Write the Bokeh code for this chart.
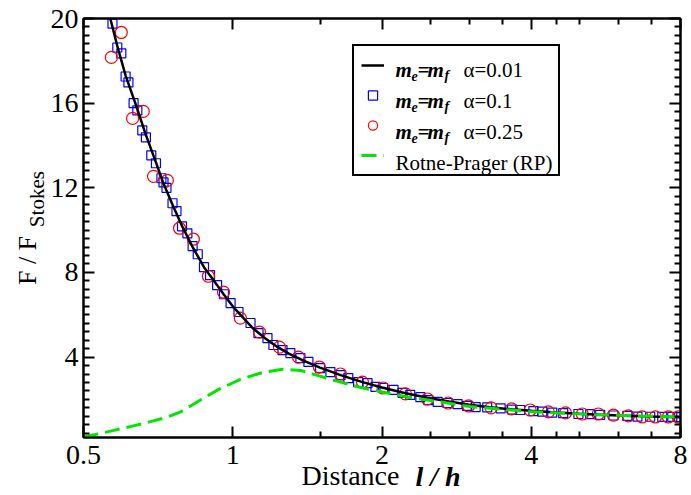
from bokeh.plotting import figure
from bokeh.models import (LogAxis, LinearAxis, FixedTicker, Label, Legend,
                          LegendItem, Range1d)
from bokeh.embed import file_html
from bokeh.resources import INLINE

# ---------------- data ----------------
x_tick_values = [0.5, 1, 2, 4, 8]
x_tick_labels = ["0.5", "1", "2", "4", "8"]
x_minor_values = [1.5, 2.5, 3, 3.5, 4.5, 5, 6, 7]
y_tick_values = [4, 8, 12, 16, 20]

# alpha = 0.01 (solid black curve)
line_x = [0.562, 0.585, 0.608, 0.636, 0.668, 0.70, 0.725, 0.756, 0.79, 0.83,
          0.875, 0.90, 0.93, 0.96, 1.0, 1.05, 1.10, 1.16, 1.23, 1.30, 1.40,
          1.50, 1.65, 1.82, 2.0, 2.22, 2.47, 2.73, 3.0, 3.3, 3.65, 4.0, 4.5,
          5.0, 5.5, 6.2, 7.0, 8.0]
line_y = [20.3, 18.7, 17.3, 16.0, 14.5, 13.2, 12.2, 11.2, 10.2, 9.2,
          8.25, 7.85, 7.4, 6.95, 6.4, 5.85, 5.35, 4.9, 4.48, 4.15, 3.8,
          3.5, 3.15, 2.83, 2.56, 2.30, 2.08, 1.9, 1.75, 1.63, 1.53, 1.46, 1.38,
          1.32, 1.28, 1.23, 1.19, 1.16]

# alpha = 0.1 (blue squares)
sq_x = [0.572, 0.585, 0.596, 0.608, 0.616, 0.631, 0.642, 0.657, 0.668, 0.685,
        0.70, 0.718, 0.725, 0.735, 0.756, 0.77, 0.79, 0.81, 0.83, 0.85,
        0.875, 0.90, 0.93, 0.96, 0.99, 1.027, 1.086, 1.127, 1.175, 1.208,
        1.26, 1.307, 1.369, 1.421, 1.50, 1.574, 1.65, 1.71, 1.79, 1.87,
        1.94, 2.01, 2.11, 2.20, 2.28, 2.39, 2.48, 2.59, 2.71, 2.84,
        2.97, 3.09, 3.26, 3.47, 3.66, 3.80, 4.04, 4.21, 4.41, 4.64,
        4.98, 5.26, 5.51, 5.86, 6.25, 6.55, 6.95, 7.35, 7.70, 7.95]
sq_y = [19.76, 18.63, 18.35, 17.26, 16.98, 16.0, 15.66, 14.71, 14.38, 13.53,
        13.16, 12.45, 12.26, 12.0, 11.27, 10.9, 10.18, 9.85, 9.24, 8.86,
        8.25, 7.87, 7.4, 6.97, 6.55, 6.13, 5.61, 5.13, 4.90, 4.57,
        4.33, 4.19, 3.95, 3.77, 3.48, 3.29, 3.15, 3.01, 2.82, 2.77,
        2.59, 2.54, 2.45, 2.31, 2.21, 2.11, 1.97, 1.88, 1.83, 1.78,
        1.69, 1.64, 1.62, 1.58, 1.52, 1.50, 1.45, 1.42, 1.38, 1.35,
        1.31, 1.30, 1.27, 1.24, 1.22, 1.19, 1.18, 1.17, 1.17, 1.16]

# alpha = 0.25 (red circles)
ci_x = [0.569, 0.596, 0.628, 0.66, 0.692, 0.738, 0.781, 0.833, 0.893, 0.958,
        1.036, 1.132, 1.242, 1.357, 1.495, 1.649, 1.826, 2.01, 2.23, 2.47,
        2.72, 2.99, 3.32, 3.65, 3.98, 4.33, 4.69, 5.07, 5.46, 5.86,
        6.28, 6.70, 7.12, 7.56, 7.92]
ci_y = [18.16, 19.34, 15.28, 15.61, 12.54, 12.35, 10.09, 9.57, 7.82, 7.07,
        5.84, 5.18, 4.47, 4.0, 3.53, 3.2, 2.82, 2.54, 2.26, 2.02,
        1.83, 1.69, 1.60, 1.55, 1.50, 1.41, 1.36, 1.31, 1.31, 1.26,
        1.22, 1.17, 1.17, 1.17, 1.17]

# Rotne-Prager (green dashed)
rp_x = [0.5, 0.567, 0.63, 0.683, 0.735, 0.785, 0.861, 0.931, 1.036, 1.14,
        1.26, 1.37, 1.50, 1.67, 1.83, 2.05, 2.25, 2.62, 3.01, 3.5,
        3.97, 4.6, 5.4, 6.5, 8.0]
rp_y = [0.22, 0.5, 0.75, 0.95, 1.15, 1.41, 1.97, 2.44, 2.95, 3.25,
        3.43, 3.37, 3.10, 2.78, 2.54, 2.30, 2.11, 1.88, 1.66, 1.53,
        1.43, 1.35, 1.28, 1.22, 1.17]

SERIF = "Liberation Serif"
NB = "\u00a0"

# ---------------- figure ----------------
p = figure(width=691, height=495, x_axis_type="log",
           x_range=Range1d(0.5, 8), y_range=Range1d(0.2, 20),
           output_backend="svg", toolbar_location=None,
           min_border_left=83, min_border_top=18, min_border_right=11,
           min_border_bottom=58)
p.xgrid.visible = False
p.ygrid.visible = False
p.outline_line_color = "black"
p.outline_line_width = 2
p.background_fill_color = "white"
p.border_fill_color = "white"

xt = FixedTicker(ticks=x_tick_values, minor_ticks=x_minor_values)
y_minor = [round(0.4 * i, 1) for i in range(1, 50) if i % 10 != 0]
yt = FixedTicker(ticks=y_tick_values, minor_ticks=y_minor)
overrides = {lab: lab for lab in x_tick_labels}


def style(ax, labels=True):
    ax.axis_line_width = 2
    ax.axis_line_color = "black"
    ax.major_tick_in = 11
    ax.major_tick_out = 0
    ax.minor_tick_in = 6
    ax.minor_tick_out = 0
    ax.major_tick_line_width = 2
    ax.minor_tick_line_width = 2
    ax.major_tick_line_color = "black"
    ax.minor_tick_line_color = "black"
    ax.major_label_text_font = SERIF
    ax.major_label_text_color = "black"
    ax.major_label_text_font_size = "28px"
    ax.axis_label_text_font = SERIF
    ax.axis_label_text_color = "black"
    if not labels:
        ax.major_label_text_alpha = 0
        ax.major_label_text_font_size = "2px"
        ax.major_label_standoff = 0


def title_axis(ax, text, size, style_, standoff):
    """An axis with no ticks that only carries a title."""
    ax.ticker = FixedTicker(ticks=[])
    ax.axis_line_color = None
    ax.major_tick_line_color = None
    ax.minor_tick_line_color = None
    ax.major_tick_in = 0
    ax.major_tick_out = 0
    ax.minor_tick_in = 0
    ax.minor_tick_out = 0
    ax.major_label_standoff = 0
    ax.major_label_text_font_size = "2px"
    ax.major_label_text_alpha = 0
    ax.axis_label = text
    ax.axis_label_text_font = SERIF
    ax.axis_label_text_font_size = size
    ax.axis_label_text_font_style = style_
    ax.axis_label_text_color = "black"
    ax.axis_label_standoff = standoff


xax = p.xaxis[0]
yax = p.yaxis[0]
xax.ticker = xt
xax.major_label_overrides = overrides
yax.ticker = yt
style(xax)
style(yax)
xax.major_label_standoff = 8
yax.major_label_standoff = 5

# x title: "Distance" (regular) + "l / h" (bold italic) on one line
xax.axis_label = "Distance" + NB * 9
xax.axis_label_text_font_size = "28px"
xax.axis_label_text_font_style = "normal"
xax.axis_label_text_line_height = 0.8
xax.axis_label_standoff = -7
x_title2 = LogAxis()
title_axis(x_title2, NB * 16 + "l / h", "28px", "bold italic", -33)
x_title2.axis_label_text_line_height = 0.8
p.add_layout(x_title2, "below")

# y title: "F / F" with subscript "Stokes"
yax.axis_label = NB * 11 + "Stokes"
yax.axis_label_text_font_size = "21px"
yax.axis_label_text_font_style = "normal"
yax.axis_label_standoff = -1
y_title2 = LinearAxis()
title_axis(y_title2, "F / F" + NB * 10, "26px", "normal", -20)
y_title2.axis_label_text_line_height = 0.7
p.add_layout(y_title2, "left")

top = LogAxis(ticker=xt)
style(top, labels=False)
p.add_layout(top, "above")
right = LinearAxis(ticker=yt)
style(right, labels=False)
p.add_layout(right, "right")

# ---------------- glyphs ----------------
r_sq = p.scatter(sq_x, sq_y, marker="square", size=9, fill_color=None,
                 line_color="#0000ff", line_width=1.2)
r_ci = p.scatter(ci_x, ci_y, marker="circle", size=12, fill_color=None,
                 line_color="#ff0000", line_width=1.2)
r_line = p.line(line_x, line_y, line_color="black", line_width=2.5)
r_rp = p.line(rp_x, rp_y, line_color="#00e600", line_width=3,
              line_dash="15 7")

# ---------------- legend (glyph samples + box) ----------------
legend = Legend(items=[LegendItem(label=" ", renderers=[r_line]),
                       LegendItem(label=" ", renderers=[r_sq]),
                       LegendItem(label=" ", renderers=[r_ci]),
                       LegendItem(label=" ", renderers=[r_rp])],
                location=(269, 261), orientation="vertical",
                padding=7, spacing=6, margin=0,
                glyph_width=23, glyph_height=24, label_height=24,
                label_width=162, label_standoff=5,
                label_text_font_size="1px",
                border_line_color="black", border_line_width=2,
                border_line_alpha=1, background_fill_alpha=0)
p.add_layout(legend, "center")


def lab(text, x, y, size, style_="normal"):
    p.add_layout(Label(x=x, y=y, x_units="screen", y_units="screen",
                       text=text, text_font=SERIF, text_font_size=size,
                       text_font_style=style_, text_color="black",
                       text_baseline="alphabetic", text_align="left"))


legend_alpha = ["\u03b1=0.01", "\u03b1=0.1", "\u03b1=0.25"]
row_base = [368, 337, 306]
for txt, yb in zip(legend_alpha, row_base):
    lab("m", 312, yb, "21px", "bold italic")
    lab("e", 328, yb - 6, "14px", "bold italic")
    lab("=", 334, yb, "21px", "bold italic")
    lab("m", 344, yb, "21px", "bold italic")
    lab("f", 361, yb - 6, "14px", "bold italic")
    lab(txt, 380, yb, "21px")
lab("Rotne-Prager (RP)", 312, 275, "21px")

open("out.html", "w").write(file_html(p, INLINE))
